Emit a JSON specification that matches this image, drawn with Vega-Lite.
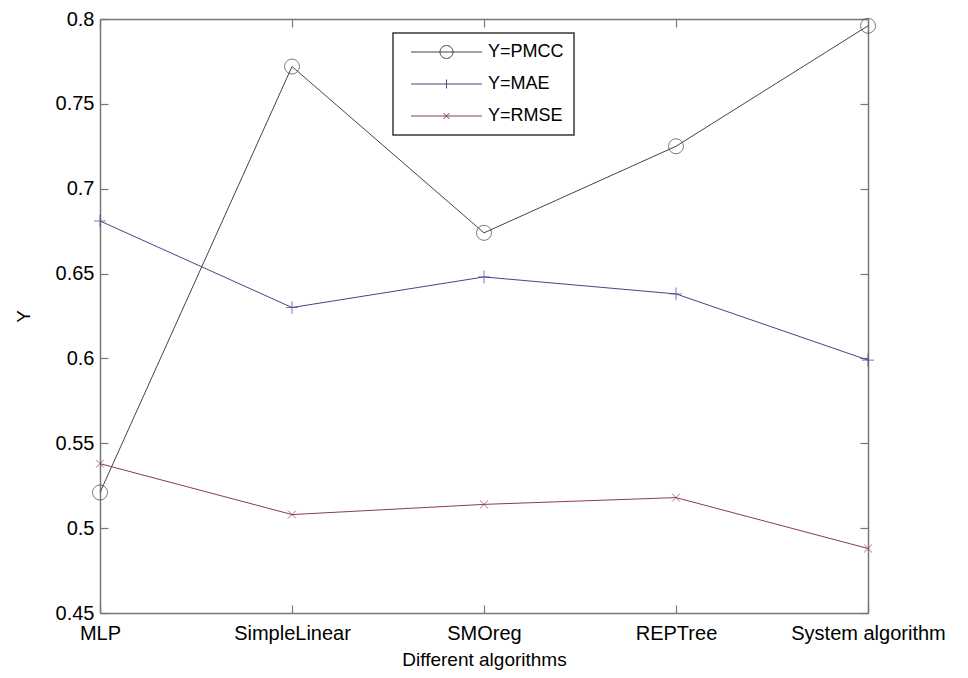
{
  "$schema": "https://vega.github.io/schema/vega-lite/v6.json",
  "width": 768,
  "height": 594,
  "autosize": {"type": "none"},
  "padding": {"left": 100, "top": 19, "right": 100, "bottom": 65},
  "background": "white",
  "config": {
    "view": {"stroke": null},
    "font": "Liberation Sans",
    "axis": {
      "domainColor": "#777777",
      "domainWidth": 1.5,
      "tickColor": "#777777",
      "tickWidth": 1.2,
      "tickSize": -8,
      "grid": false,
      "labelColor": "black",
      "titleColor": "black",
      "labelFont": "Liberation Sans",
      "titleFont": "Liberation Sans",
      "titleFontWeight": "normal"
    }
  },
  "data": {
    "values": [
      {"algorithm": "MLP", "series": "Y=PMCC", "value": 0.521},
      {"algorithm": "SimpleLinear", "series": "Y=PMCC", "value": 0.772},
      {"algorithm": "SMOreg", "series": "Y=PMCC", "value": 0.674},
      {"algorithm": "REPTree", "series": "Y=PMCC", "value": 0.725},
      {"algorithm": "System algorithm", "series": "Y=PMCC", "value": 0.796},
      {"algorithm": "MLP", "series": "Y=MAE", "value": 0.681},
      {"algorithm": "SimpleLinear", "series": "Y=MAE", "value": 0.630},
      {"algorithm": "SMOreg", "series": "Y=MAE", "value": 0.648},
      {"algorithm": "REPTree", "series": "Y=MAE", "value": 0.638},
      {"algorithm": "System algorithm", "series": "Y=MAE", "value": 0.599},
      {"algorithm": "MLP", "series": "Y=RMSE", "value": 0.538},
      {"algorithm": "SimpleLinear", "series": "Y=RMSE", "value": 0.508},
      {"algorithm": "SMOreg", "series": "Y=RMSE", "value": 0.514},
      {"algorithm": "REPTree", "series": "Y=RMSE", "value": 0.518},
      {"algorithm": "System algorithm", "series": "Y=RMSE", "value": 0.488}
    ]
  },
  "layer": [
    {
      "mark": {"type": "line", "strokeWidth": 1},
      "encoding": {
        "x": {
          "field": "algorithm",
          "type": "nominal",
          "sort": ["MLP", "SimpleLinear", "SMOreg", "REPTree", "System algorithm"],
          "scale": {"type": "point", "padding": 0},
          "axis": {
            "title": "Different algorithms",
            "labelAngle": 0,
            "labelFontSize": 20,
            "titleFontSize": 19,
            "labelPadding": 18,
            "titlePadding": 7
          }
        },
        "y": {
          "field": "value",
          "type": "quantitative",
          "scale": {"domain": [0.45, 0.8], "nice": false, "zero": false},
          "axis": {
            "title": "Y",
            "values": [0.45, 0.5, 0.55, 0.6, 0.65, 0.7, 0.75, 0.8],
            "format": ".2~f",
            "labelFontSize": 20,
            "titleFontSize": 19,
            "labelPadding": 14,
            "titlePadding": 22
          }
        },
        "stroke": {
          "field": "series",
          "type": "nominal",
          "sort": ["Y=PMCC", "Y=MAE", "Y=RMSE"],
          "scale": {"domain": ["Y=PMCC", "Y=MAE", "Y=RMSE"], "range": ["#444444", "#45458a", "#8a3a58"]},
          "legend": {
            "orient": "none",
            "legendX": 293,
            "legendY": 14,
            "title": null,
            "fillColor": "white",
            "strokeColor": "#3a3a3a",
            "padding": 10,
            "symbolSize": 100,
            "symbolOffset": 34.5,
            "labelOffset": 32.5,
            "labelFontSize": 18,
            "labelFont": "Liberation Sans",
            "labelColor": "black",
            "rowPadding": 14,
            "symbolStrokeWidth": 1,
            "encode": {
              "legend": {"update": {"strokeWidth": {"value": 1.5}}},
              "symbols": {
                "update": {
                  "shape": {"signal": "datum.value === 'Y=PMCC' ? 'M-7.1,0H7.1M1.3,0A1.3,1.3 0 1,1 -1.3,0A1.3,1.3 0 1,1 1.3,0' : datum.value === 'Y=MAE' ? 'M-7.1,0H7.1M0,-0.9V0.9' : 'M-7.1,0H7.1M-0.6,-0.6L0.6,0.6M-0.6,0.6L0.6,-0.6'"},
                  "fill": {"value": "transparent"},
                  "strokeWidth": {"value": 1}
                }
              }
            }
          }
        }
      }
    },
    {
      "transform": [{"filter": "datum.series === 'Y=PMCC'"}],
      "mark": {"type": "point", "shape": "circle", "filled": false, "size": 225, "strokeWidth": 1, "color": "#444444"},
      "encoding": {
        "x": {"field": "algorithm", "type": "nominal", "sort": ["MLP", "SimpleLinear", "SMOreg", "REPTree", "System algorithm"], "axis": null},
        "y": {"field": "value", "type": "quantitative", "axis": null}
      }
    },
    {
      "transform": [{"filter": "datum.series === 'Y=MAE'"}],
      "mark": {"type": "point", "shape": "M-0.8,0H0.8M0,-0.85V0.85", "filled": false, "size": 225, "strokeWidth": 1, "color": "#45458a"},
      "encoding": {
        "x": {"field": "algorithm", "type": "nominal", "sort": ["MLP", "SimpleLinear", "SMOreg", "REPTree", "System algorithm"], "axis": null},
        "y": {"field": "value", "type": "quantitative", "axis": null}
      }
    },
    {
      "transform": [{"filter": "datum.series === 'Y=RMSE'"}],
      "mark": {"type": "point", "shape": "M-0.53,-0.53L0.53,0.53M-0.53,0.53L0.53,-0.53", "filled": false, "size": 225, "strokeWidth": 1, "color": "#8a3a58"},
      "encoding": {
        "x": {"field": "algorithm", "type": "nominal", "sort": ["MLP", "SimpleLinear", "SMOreg", "REPTree", "System algorithm"], "axis": null},
        "y": {"field": "value", "type": "quantitative", "axis": null}
      }
    },
    {
      "mark": {"type": "line", "opacity": 0},
      "encoding": {
        "x": {
          "field": "algorithm",
          "type": "nominal",
          "sort": ["MLP", "SimpleLinear", "SMOreg", "REPTree", "System algorithm"],
          "axis": {"orient": "top", "labels": false, "title": null}
        },
        "y": {
          "field": "value",
          "type": "quantitative",
          "axis": {"orient": "right", "labels": false, "title": null, "values": [0.45, 0.5, 0.55, 0.6, 0.65, 0.7, 0.75, 0.8]}
        },
        "detail": {"field": "series"}
      }
    }
  ],
  "resolve": {"axis": {"x": "independent", "y": "independent"}}
}
